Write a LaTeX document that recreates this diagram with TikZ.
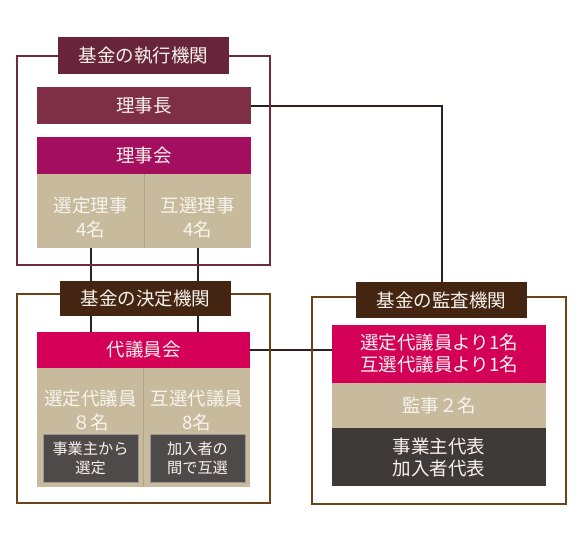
\documentclass[tikz,border=0pt]{standalone}
\usepackage{fontspec}
\setmainfont{Noto Sans CJK JP}
\usetikzlibrary{calc}
\pgfdeclarelayer{bgfill}
\pgfdeclarelayer{background}
\pgfsetlayers{bgfill,background,main}
\definecolor{execframe}{HTML}{6E2B3C}
\definecolor{exectitle}{HTML}{68243A}
\definecolor{chairc}{HTML}{7E2F45}
\definecolor{boardc}{HTML}{A30E5F}
\definecolor{beigec}{HTML}{C8BB9D}
\definecolor{beigeline}{HTML}{B0A287}
\definecolor{decframe}{HTML}{6E4218}
\definecolor{dectitle}{HTML}{432512}
\definecolor{pinkc}{HTML}{D40057}
\definecolor{darkbox}{HTML}{4E4A4A}
\definecolor{darkboxline}{HTML}{9A9696}
\definecolor{auditdark}{HTML}{3F3A3A}
\definecolor{linkc}{HTML}{2E2220}
\definecolor{txtc}{HTML}{F8F3EC}
\tikzset{
  fr/.style={draw, line width=1.8pt, inner sep=0pt},
  blk/.style={inner sep=0pt, text=txtc, align=center, font=\fontsize{18.5}{22}\selectfont},
  lbl/.style={inner sep=0pt, text=txtc, align=center, font=\fontsize{18.5}{24}\selectfont},
  small/.style={inner sep=0pt, text=txtc, align=center, font=\fontsize{15.2}{19}\selectfont, fill=darkbox, draw=darkboxline, line width=0.8pt},
  link/.style={draw=linkc, line width=2pt}
}
\begin{document}
\begin{tikzpicture}[x=1pt,y=-1pt]
\begin{pgfonlayer}{bgfill}
\fill[white] (0,0) rectangle (580,554);
\end{pgfonlayer}
\useasboundingbox (0,0) rectangle (580,554);
% frames
\node[fr, draw=execframe, minimum width=253, minimum height=209] (frame1) at (143.5,160.5) {};
\node[fr, draw=decframe, minimum width=253, minimum height=209] (frame2) at (143.5,398.5) {};
\node[fr, draw=decframe, minimum width=254, minimum height=207] (frame3) at (439,400.5) {};
% executive organ
\node[blk, fill=exectitle, minimum width=171, minimum height=37] (title1) at (143.5,55.5) {基金の執行機関};
\node[blk, fill=chairc, minimum width=214, minimum height=37] (chair) at (144,105.5) {理事長};
\node[blk, fill=boardc, minimum width=214, minimum height=37] (board) at (144,155.5) {理事会};
\node[blk, fill=beigec, minimum width=107, minimum height=74] (selA) at (90.5,211) {};
\node[blk, fill=beigec, minimum width=107, minimum height=74] (mutA) at (197.5,211) {};
\draw[beigeline, line width=0.8pt] (selA.north east) -- (selA.south east);
\node[lbl] (selAt) at (90.5,217) {選定理事\\4名};
\node[lbl] (mutAt) at (197.5,217) {互選理事\\4名};
% decision organ
\node[blk, fill=dectitle, minimum width=171, minimum height=35] (title2) at (145.5,298.5) {基金の決定機関};
\node[blk, fill=pinkc, minimum width=213, minimum height=36] (council) at (143.5,350) {代議員会};
\node[blk, fill=beigec, minimum width=106, minimum height=119] (selB) at (90,427.5) {};
\node[blk, fill=beigec, minimum width=107, minimum height=119] (mutB) at (196.5,427.5) {};
\draw[beigeline, line width=0.8pt] (selB.north east) -- (selB.south east);
\node[lbl] (selBt) at (90.5,410) {選定代議員\\８名};
\node[lbl] (mutBt) at (197,410) {互選代議員\\8名};
\node[small, minimum width=95, minimum height=48] (selBx) at (90.5,458) {事業主から\\選定};
\node[small, minimum width=95, minimum height=48] (mutBx) at (197.5,458) {加入者の\\間で互選};
% audit organ
\node[blk, fill=dectitle, minimum width=171, minimum height=36] (title3) at (441.5,300) {基金の監査機関};
\node[blk, fill=pinkc, minimum width=214, minimum height=58] (aud1) at (439,354) {選定代議員より1名\\互選代議員より1名};
\node[blk, fill=beigec, minimum width=214, minimum height=45] (aud2) at (439,405.5) {監事２名};
\node[blk, fill=auditdark, minimum width=214, minimum height=58] (aud3) at (439,457) {事業主代表\\加入者代表};
% connectors
\begin{pgfonlayer}{background}
\draw[link] (chair.east) -| (title3.north);
\draw[link] (selA.south) -- (selA.south |- council.north);
\draw[link] (mutA.south) -- (mutA.south |- council.north);
\draw[link] (council.east) -- (council.east -| aud1.west);
\end{pgfonlayer}
\end{tikzpicture}
\end{document}
